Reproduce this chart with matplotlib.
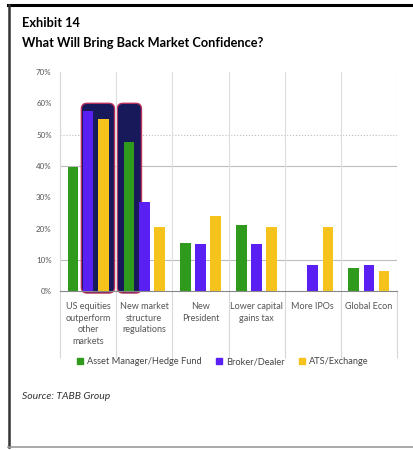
import matplotlib
matplotlib.use("Agg")
import matplotlib.pyplot as plt
from matplotlib.patches import FancyBboxPatch
from matplotlib.lines import Line2D
import numpy as np

plt.rcParams['font.family'] = ['Lato', 'DejaVu Sans']

# survey data (% of respondents)
categories = ["US equities\noutperform\nother\nmarkets", "New market\nstructure\nregulations",
              "New\nPresident", "Lower capital\ngains tax", "More IPOs", "Global Econ"]
series_names = ["Asset Manager/Hedge Fund", "Broker/Dealer", "ATS/Exchange"]
asset_mgr = [39.5, 47.5, 15.5, 21.0, 0.0, 7.5]
broker = [57.5, 28.5, 15.0, 15.0, 8.5, 8.5]
ats = [55.0, 20.5, 24.0, 20.5, 20.5, 6.5]
y_ticks = [0, 10, 20, 30, 40, 50, 60, 70]
grid_levels = [10, 40, 50]

colors = ["#2f9a1c", "#5a1ff2", "#f6c21c"]

fig = plt.figure(figsize=(4.14, 4.5), dpi=100)
ax = fig.add_axes([0.145, 0.353, 0.814, 0.487])

x = np.arange(len(categories))
offs = [-0.27, 0.0, 0.27]
w = 0.19

# highlight boxes behind the top answers
hl = [(0 - 0.12, 0.59), (1 - 0.48, 0.43)]
for x0, bw in hl:
    box = FancyBboxPatch((x0, -0.6), bw, 60.6,
                         boxstyle="round,pad=0,rounding_size=0.1",
                         mutation_aspect=18, facecolor="#17195a",
                         edgecolor="#b9335c", linewidth=1.0, zorder=1,
                         clip_on=False)
    ax.add_patch(box)

for vals, off, c, name in zip([asset_mgr, broker, ats], offs, colors, series_names):
    ax.bar(x + off, vals, width=w, color=c, zorder=2, label=name)

ax.set_xlim(-0.5, len(categories) - 0.5)
ax.set_ylim(0, 70)

# horizontal grid
for lv in grid_levels:
    ls = ":" if lv == 50 else "-"
    ax.axhline(lv, color="#bdbdbd", lw=0.8, ls=ls, zorder=0)

ax.set_yticks(y_ticks)
ax.set_yticklabels([f"{v}%" for v in y_ticks], fontsize=5.7, color="#555555")
ax.tick_params(axis="y", length=0, pad=6)

# category separators run down through the label area
ax.set_xticks(np.arange(len(categories) + 1) - 0.5, minor=True)
ax.set_xticks(x)
ax.set_xticklabels(categories, fontsize=6.5, color="#555555", linespacing=1.35, va="top")
ax.tick_params(axis="x", which="major", length=0, pad=8)
ax.tick_params(axis="x", which="minor", length=48, color="#d8d8d8", width=0.8)
ax.grid(axis="x", which="minor", color="#dedede", lw=0.8, zorder=0)

for s in ["top", "right"]:
    ax.spines[s].set_visible(False)
ax.spines["left"].set_color("#d8d8d8")
ax.spines["bottom"].set_color("#888888")
ax.spines["bottom"].set_zorder(3)

handles = [Line2D([], [], marker="s", ls="", color=c, markersize=4) for c in colors]
fig.legend(handles, series_names, loc="center", bbox_to_anchor=(0.535, 0.196), ncol=3,
           frameon=False, fontsize=6.7, handletextpad=0.1, columnspacing=1.3,
           handlelength=1.2, labelcolor="#444444")

fig.text(0.053, 0.949, "Exhibit 14", fontsize=9.2, fontweight="bold", va="center")
fig.text(0.053, 0.904, "What Will Bring Back Market Confidence?", fontsize=9.2,
         fontweight="bold", va="center")
fig.text(0.053, 0.118, "Source: TABB Group", fontsize=7.5, style="italic",
         color="#333333", va="center")

# page frame
fig.add_artist(Line2D([0.02, 1.0], [0.99, 0.99], color="black", lw=2.2))
fig.add_artist(Line2D([0.021, 0.021], [0.007, 0.99], color="#333333", lw=1.8))
fig.add_artist(Line2D([0.02, 1.0], [0.007, 0.007], color="#999999", lw=1.2))

fig.savefig("out.png", dpi=100)
